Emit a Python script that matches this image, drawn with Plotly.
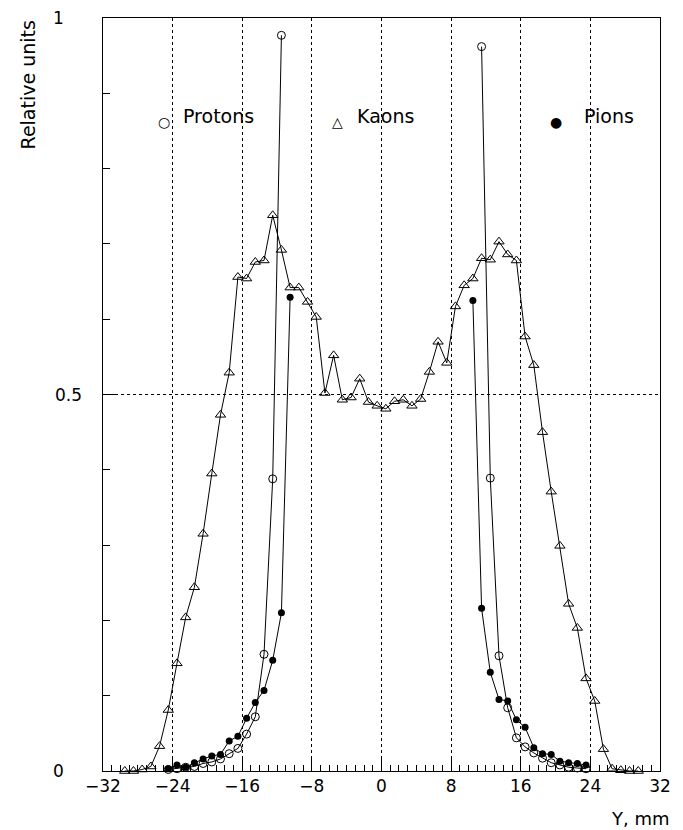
import plotly.graph_objects as go

# Bin centres (mm) and relative values
kaon_x = [-29.5, -28.5, -27.5, -26.5, -25.5, -24.5, -23.5, -22.5, -21.5, -20.5,
          -19.5, -18.5, -17.5, -16.5, -15.5, -14.5, -13.5, -12.5, -11.5, -10.5,
          -9.5, -8.5, -7.5, -6.5, -5.5, -4.5, -3.5, -2.5, -1.5, -0.5,
          0.5, 1.5, 2.5, 3.5, 4.5, 5.5, 6.5, 7.5, 8.5, 9.5,
          10.5, 11.5, 12.5, 13.5, 14.5, 15.5, 16.5, 17.5, 18.5, 19.5,
          20.5, 21.5, 22.5, 23.5, 24.5, 25.5, 26.5, 27.5, 28.5, 29.5]
kaon_y = [0.0, 0.0, 0.002, 0.006, 0.033, 0.081, 0.143, 0.204, 0.244, 0.315,
          0.395, 0.473, 0.529, 0.656, 0.654, 0.676, 0.678, 0.738, 0.692, 0.642,
          0.642, 0.623, 0.603, 0.502, 0.552, 0.493, 0.496, 0.521, 0.490, 0.485,
          0.481, 0.491, 0.493, 0.485, 0.494, 0.530, 0.570, 0.542, 0.617, 0.645,
          0.654, 0.681, 0.679, 0.703, 0.686, 0.678, 0.577, 0.539, 0.450, 0.371,
          0.299, 0.222, 0.190, 0.123, 0.093, 0.029, 0.003, 0.001, 0.0, 0.0]

proton_left_x = [-24.5, -23.5, -22.5, -21.5, -20.5, -19.5, -18.5, -17.5, -16.5,
                 -15.5, -14.5, -13.5, -12.5, -11.5]
proton_left_y = [0.002, 0.003, 0.005, 0.006, 0.010, 0.012, 0.016, 0.023, 0.030,
                 0.049, 0.072, 0.155, 0.388, 0.977]
proton_right_x = [11.5, 12.5, 13.5, 14.5, 15.5, 16.5, 17.5, 18.5, 19.5, 20.5,
                  21.5, 22.5, 23.5]
proton_right_y = [0.962, 0.389, 0.153, 0.084, 0.044, 0.032, 0.024, 0.017, 0.011,
                  0.008, 0.005, 0.004, 0.003]

pion_left_x = [-24.5, -23.5, -22.5, -21.5, -20.5, -19.5, -18.5, -17.5, -16.5,
               -15.5, -14.5, -13.5, -12.5, -11.5, -10.5]
pion_left_y = [0.003, 0.008, 0.005, 0.011, 0.016, 0.020, 0.022, 0.040, 0.046,
               0.070, 0.091, 0.107, 0.147, 0.210, 0.629]
pion_right_x = [10.5, 11.5, 12.5, 13.5, 14.5, 15.5, 16.5, 17.5, 18.5, 19.5,
                20.5, 21.5, 22.5, 23.5]
pion_right_y = [0.625, 0.216, 0.131, 0.095, 0.093, 0.068, 0.058, 0.031, 0.023,
                0.022, 0.013, 0.011, 0.010, 0.008]

x_ticks = [-32, -24, -16, -8, 0, 8, 16, 24, 32]
y_ticks = [0, 0.5, 1]
y_tick_labels = ["0", "0.5", "1"]

FONT = "DejaVu Sans, Verdana, sans-serif"
PLOT_L, PLOT_R, PLOT_T, PLOT_B = 103, 16, 18, 59
PLOT_W = 683 - PLOT_L - PLOT_R


def px_to_paper_x(px):
    return (px - PLOT_L) / PLOT_W


fig = go.Figure()

fig.add_trace(go.Scatter(
    x=kaon_x, y=kaon_y, mode="lines+markers",
    line=dict(color="black", width=1),
    marker=dict(symbol="triangle-up-open", size=9, color="black",
                line=dict(width=1, color="black")),
    cliponaxis=False, name="Kaons"))

fig.add_trace(go.Scatter(
    x=proton_left_x + [None] + proton_right_x,
    y=proton_left_y + [None] + proton_right_y,
    mode="lines+markers",
    line=dict(color="black", width=1),
    marker=dict(symbol="circle-open", size=8, color="black",
                line=dict(width=1, color="black")),
    cliponaxis=False, name="Protons"))

fig.add_trace(go.Scatter(
    x=pion_left_x + [None] + pion_right_x,
    y=pion_left_y + [None] + pion_right_y,
    mode="lines+markers",
    line=dict(color="black", width=1),
    marker=dict(symbol="circle", size=7, color="black"),
    cliponaxis=False, name="Pions"))

axis_common = dict(
    showline=True, linecolor="black", linewidth=1, mirror=True,
    ticks="inside", tickcolor="black",
    showgrid=True, gridcolor="black", griddash="dot", gridwidth=1,
    zeroline=False,
    tickfont=dict(family=FONT, size=17, color="black"),
)

fig.update_xaxes(
    range=[-32, 32], tickvals=x_ticks, ticklen=12,
    minor=dict(dtick=1, ticks="inside", ticklen=6, tickcolor="black", showgrid=False),
    **axis_common)
fig.update_yaxes(
    range=[0, 1], tickvals=y_ticks, ticklen=12, showticklabels=False,
    minor=dict(dtick=0.1, ticks="inside", ticklen=7, tickcolor="black", showgrid=False),
    **axis_common)

annotations = [
    dict(text="Y, mm", x=px_to_paper_x(679), y=-0.046, xref="paper", yref="paper",
         xanchor="right", yanchor="top", showarrow=False,
         font=dict(family=FONT, size=18, color="black")),
    dict(text="Relative units", x=px_to_paper_x(27), y=1.0, xref="paper", yref="paper",
         xanchor="center", yanchor="top", textangle=-90, showarrow=False,
         font=dict(family=FONT, size=19, color="black")),
]

# y tick labels placed like the reference
y_label_centres = [58, 68, 58]
for val, lab, cx in zip(y_ticks, y_tick_labels, y_label_centres):
    annotations.append(dict(text=lab, x=px_to_paper_x(cx), y=val, xref="paper", yref="y",
                            xanchor="center", yanchor="middle", showarrow=False,
                            font=dict(family=FONT, size=17, color="black")))

legend_items = [
    ("○", "Protons", 165, 182),
    ("△", "Kaons", 340, 358),
    ("●", "Pions", 562, 588),
]
for sym, label, xs, xt in legend_items:
    annotations.append(dict(text=sym, x=px_to_paper_x(xs), y=0.862, xref="paper", yref="paper",
                            xanchor="center", yanchor="middle", showarrow=False,
                            font=dict(family="DejaVu Sans", size=14, color="black")))
    annotations.append(dict(text=label, x=px_to_paper_x(xt), y=0.870, xref="paper", yref="paper",
                            xanchor="left", yanchor="middle", showarrow=False,
                            font=dict(family=FONT, size=19, color="black")))

fig.update_layout(
    width=683, height=830,
    margin=dict(l=PLOT_L, r=PLOT_R, t=PLOT_T, b=PLOT_B),
    paper_bgcolor="white", plot_bgcolor="white",
    showlegend=False,
    annotations=annotations,
)

fig.write_html("out.html")
